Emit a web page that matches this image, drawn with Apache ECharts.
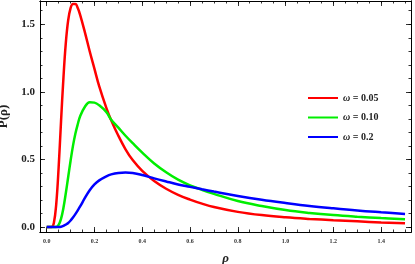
<!DOCTYPE html>
<html>
<head>
<meta charset="utf-8">
<script src="https://cdn.jsdelivr.net/npm/echarts@6/dist/echarts.min.js"></script>
<style>html,body{margin:0;padding:0;background:#fff}#c{width:415px;height:264px}</style>
</head>
<body>
<div id="c"></div>
<script>
var rho = [0, 0.02, 0.03, 0.04, 0.05, 0.06, 0.07, 0.08, 0.09, 0.10, 0.11, 0.12, 0.13, 0.14, 0.16, 0.18, 0.20, 0.22, 0.25, 0.27, 0.30, 0.33, 0.36, 0.40, 0.45, 0.50, 0.55, 0.60, 0.65, 0.70, 0.80, 0.90, 1.0, 1.1, 1.2, 1.3, 1.4, 1.5];
var pRed = [0, 0, 0.03, 0.17, 0.44, 0.78, 1.10, 1.36, 1.53, 1.62, 1.65, 1.65, 1.62, 1.57, 1.44, 1.30, 1.17, 1.04, 0.88, 0.79, 0.675, 0.575, 0.495, 0.415, 0.34, 0.283, 0.238, 0.203, 0.173, 0.148, 0.112, 0.088, 0.072, 0.06, 0.05, 0.042, 0.034, 0.028];
var pGreen = [0, 0, 0, 0, 0.015, 0.06, 0.14, 0.25, 0.37, 0.49, 0.60, 0.69, 0.76, 0.82, 0.89, 0.923, 0.92, 0.90, 0.85, 0.794, 0.735, 0.675, 0.62, 0.55, 0.47, 0.405, 0.35, 0.308, 0.275, 0.245, 0.192, 0.155, 0.125, 0.104, 0.088, 0.076, 0.066, 0.058];
var pBlue = [0, 0, 0, 0, 0, 0.002, 0.008, 0.018, 0.03, 0.048, 0.07, 0.095, 0.123, 0.152, 0.215, 0.272, 0.315, 0.345, 0.375, 0.389, 0.40, 0.403, 0.40, 0.385, 0.36, 0.337, 0.315, 0.297, 0.279, 0.262, 0.23, 0.202, 0.178, 0.156, 0.138, 0.122, 0.109, 0.097];
var seriesNames = ['ω = 0.05', 'ω = 0.10', 'ω = 0.2'];
var xTickLabels = [0, 0.2, 0.4, 0.6, 0.8, 1.0, 1.2, 1.4];
var yTickLabels = [0, 0.5, 1.0, 1.5];

function pairs(ys) { return rho.map(function (x, i) { return [x, ys[i]]; }); }
function range(a, b, s) { var r = []; for (var v = a; v <= b + 1e-9; v += s) r.push(Math.round(v * 1000) / 1000); return r; }
var xMinor = range(0, 1.5, 0.05);
var yMinor = range(0, 1.6, 0.1);
var XMIN = -0.028, XMAX = 1.525, YMIN = -0.037, YMAX = 1.672;
var serif = 'Liberation Serif';

function xAx(pos, labels, ticks, len, show) {
  return {
    type: 'value', position: pos, min: XMIN, max: XMAX,
    axisLine: { show: true, onZero: false, lineStyle: { color: '#000', width: 1 } },
    axisTick: { show: true, inside: true, length: len, customValues: ticks, lineStyle: { color: '#000', width: 0.8 } },
    axisLabel: { show: show, customValues: labels, margin: 6, fontFamily: serif, fontWeight: 'bold', fontSize: 6, color: '#333',
      formatter: function (v) { return v.toFixed(1); } },
    splitLine: { show: false }
  };
}
function yAx(pos, labels, ticks, len, show) {
  return {
    type: 'value', position: pos, min: YMIN, max: YMAX,
    axisLine: { show: true, onZero: false, lineStyle: { color: '#000', width: 1 } },
    axisTick: { show: true, inside: true, length: len, customValues: ticks, lineStyle: { color: '#000', width: 0.8 } },
    axisLabel: { show: show, customValues: labels, margin: 5, fontFamily: serif, fontWeight: 'bold', fontSize: 11, color: '#222',
      formatter: function (v) { return v.toFixed(1); } },
    splitLine: { show: false }
  };
}

var xAxes = [xAx('bottom', xTickLabels, xTickLabels, 5, true), xAx('bottom', [], xMinor, 2.5, false),
             xAx('top', [], xTickLabels, 5, false), xAx('top', [], xMinor, 2.5, false)];
xAxes[0].name = 'ρ';
xAxes[0].nameLocation = 'middle';
xAxes[0].nameGap = 20;
xAxes[0].nameTextStyle = { fontFamily: serif, fontStyle: 'italic', fontWeight: 'bold', fontSize: 13, color: '#222' };
var yAxes = [yAx('left', yTickLabels, yTickLabels, 5, true), yAx('left', [], yMinor, 2.5, false),
             yAx('right', [], yTickLabels, 5, false), yAx('right', [], yMinor, 2.5, false)];
yAxes[0].name = 'P(ρ)';
yAxes[0].nameLocation = 'middle';
yAxes[0].nameRotate = 90;
yAxes[0].nameGap = 25;
yAxes[0].nameTextStyle = { fontFamily: serif, fontWeight: 'bold', fontSize: 13, color: '#222' };

var colors = ['#ff0000', '#00ee00', '#0000ff'];
var data = [pRed, pGreen, pBlue];
var series = data.map(function (d, i) {
  return { name: seriesNames[i], type: 'line', xAxisIndex: 0, yAxisIndex: 0, data: pairs(d), showSymbol: false,
    smooth: 0.4, lineStyle: { color: colors[i], width: 2.5 }, itemStyle: { color: colors[i] } };
});

var chart = echarts.init(document.getElementById('c'), null, { renderer: 'canvas' });
chart.setOption({
  animation: false,
  backgroundColor: '#fff',
  grid: { left: 40, right: 4, top: 1, bottom: 32, outerBoundsMode: 'none', containLabel: false },
  legend: {
    data: seriesNames, orient: 'vertical', left: 303, top: 88, itemWidth: 30, itemHeight: 2, itemGap: 9.5,
    icon: 'rect',
    formatter: function (n) { return '{w|ω}{b| = ' + n.split('= ')[1] + '}'; },
    textStyle: { rich: {
      w: { fontFamily: serif, fontStyle: 'italic', fontWeight: 'bold', fontSize: 10, color: '#222' },
      b: { fontFamily: serif, fontWeight: 'bold', fontSize: 10, color: '#222' } } }
  },
  xAxis: xAxes,
  yAxis: yAxes,
  series: series
});
</script>
</body>
</html>
